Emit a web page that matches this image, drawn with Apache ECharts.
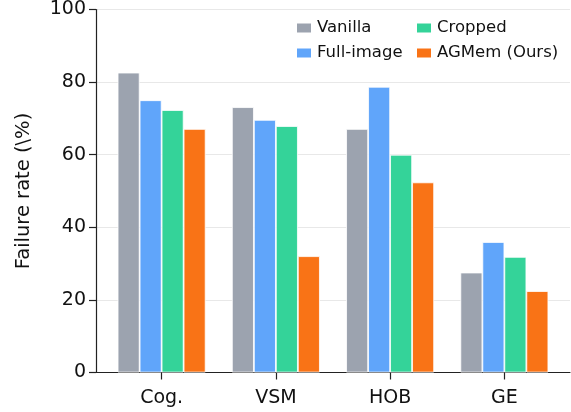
<!DOCTYPE html>
<html><head><meta charset="utf-8">
<script src="https://cdn.jsdelivr.net/npm/echarts@6/dist/echarts.min.js"></script>
<style>html,body{margin:0;padding:0;background:#fff}#c{width:571px;height:412px}</style>
</head><body><div id="c"></div>
<script>
const categories = ['Cog.', 'VSM', 'HOB', 'GE'];
const vanilla = [82.5, 73.0, 67.0, 27.5];
const fullImage = [74.9, 69.5, 78.6, 35.9];
const cropped = [72.2, 67.8, 59.9, 31.8];
const agmem = [67.0, 32.0, 52.3, 22.4];
const yTicks = [0, 20, 40, 60, 80, 100];

const FONT = 'DejaVu Sans';
const TXT = '#111111';
const colors = {Vanilla:'#9ca3af','Full-image':'#60a5fa',Cropped:'#34d399','AGMem (Ours)':'#f97316'};
const chart = echarts.init(document.getElementById('c'), null, {renderer:'canvas'});
const gTop = 9, gBottom = 39.5;
const mk = (name, data) => ({
  name, type:'bar', data, xAxisIndex:1, yAxisIndex:1,
  itemStyle:{color:colors[name], borderColor:'#ffffff', borderWidth:0.8},
  barGap:'0%', barCategoryGap:'23%'
});
const legendText = {fontSize:16.5, color:TXT, fontFamily:FONT, lineHeight:17};
chart.setOption({
  animation:false,
  textStyle:{fontFamily:FONT},
  grid:[
    {left:96, right:1, top:gTop, bottom:gBottom, containLabel:false},
    {left:104.5, right:9.5, top:gTop, bottom:gBottom, containLabel:false}
  ],
  xAxis:[
    {type:'value', gridIndex:0, min:0, max:1, axisLine:{show:true, onZero:false, lineStyle:{color:'#222', width:1.2}},
     axisTick:{show:false}, axisLabel:{show:false}, splitLine:{show:false}},
    {type:'category', gridIndex:1, data:categories, axisLine:{show:false},
     axisTick:{show:true, alignWithLabel:true, length:7, inside:false, lineStyle:{color:'#222', width:1.2}},
     axisLabel:{color:TXT, fontSize:19, fontFamily:FONT, margin:16}}
  ],
  yAxis:[
    {type:'value', gridIndex:0, min:0, max:100, interval:20,
     name:'Failure rate (\\%)', nameLocation:'middle', nameGap:62,
     nameTextStyle:{fontSize:19.5, color:TXT, fontFamily:FONT},
     axisLine:{show:true, lineStyle:{color:'#222', width:1.2}},
     axisTick:{show:true, length:7, lineStyle:{color:'#222', width:1.2}},
     axisLabel:{color:TXT, fontSize:19, fontFamily:FONT, margin:10,
       formatter: v => yTicks.includes(v) ? String(v) : ''},
     splitLine:{show:true, lineStyle:{color:'#e8e8e8', width:1}}},
    {type:'value', gridIndex:1, min:0, max:100, show:false}
  ],
  legend:[
    {data:['Vanilla','Full-image'], orient:'vertical', left:290, top:14.5, itemWidth:16, itemHeight:11, itemGap:8,
     icon:'rect', textStyle:legendText},
    {data:['Cropped','AGMem (Ours)'], orient:'vertical', left:410, top:14.5, itemWidth:16, itemHeight:11, itemGap:8,
     icon:'rect', textStyle:legendText}
  ],
  series:[mk('Vanilla', vanilla), mk('Full-image', fullImage), mk('Cropped', cropped), mk('AGMem (Ours)', agmem)]
});
</script></body></html>
